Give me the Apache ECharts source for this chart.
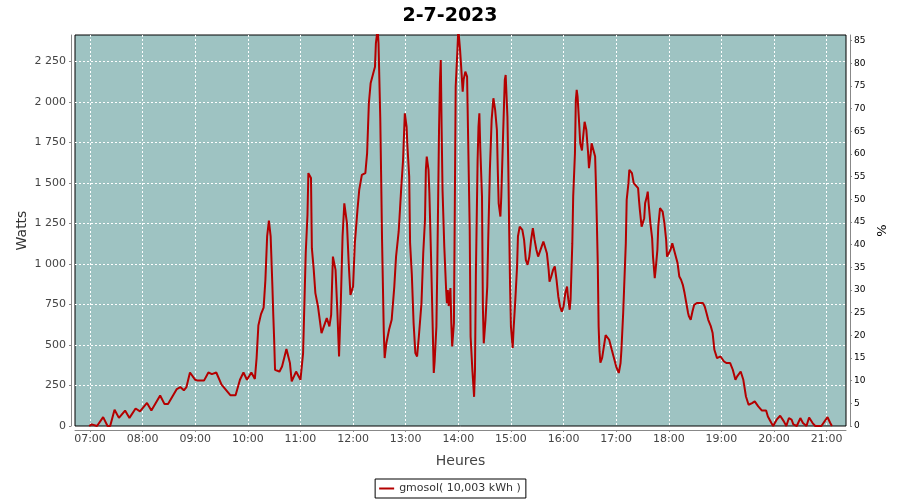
<!DOCTYPE html>
<html>
<head>
<meta charset="utf-8">
<script src="https://cdn.jsdelivr.net/npm/echarts@6/dist/echarts.min.js"></script>
<style>html,body{margin:0;padding:0;background:#fff}#c{width:900px;height:500px}</style>
</head>
<body>
<div id="c"></div>
<script>
const title = '2-7-2023';
const seriesName = 'gmosol( 10,003 kWh )';
const hourTicks = ['07:00','08:00','09:00','10:00','11:00','12:00','13:00','14:00','15:00','16:00','17:00','18:00','19:00','20:00','21:00'];
const times = [
'06:59','07:02','07:08','07:10','07:15','07:20','07:23','07:28','07:33','07:40','07:45','07:52','07:57','08:05','08:10','08:20','08:25','08:29','08:39','08:43','08:47','08:50','08:54','09:00','09:03','09:10','09:15','09:19','09:24','09:30','09:40','09:46','09:51','09:55','09:59','10:04','10:08',
'10:10','10:12','10:15','10:18','10:20','10:22','10:24','10:26','10:28','10:29','10:30','10:31','10:36','10:39','10:44','10:48','10:50','10:55','11:00','11:03','11:06','11:08','11:09','11:12','11:13','11:15','11:17','11:20','11:24','11:28','11:30','11:33','11:35','11:37','11:40','11:42','11:44','11:46','11:48','11:50','11:53','11:55','11:57',
'12:00','12:02','12:05','12:07','12:10','12:14','12:16','12:18','12:20','12:23','12:25','12:26','12:28','12:29','12:31','12:32','12:33','12:35','12:36','12:38','12:41','12:44','12:47','12:49','12:52','12:53','12:55','12:57','12:59',
'13:01','13:02','13:04','13:05','13:07','13:09','13:11','13:13','13:15','13:18','13:20','13:22','13:23','13:24','13:26','13:27','13:29','13:30','13:32','13:33','13:35','13:36','13:38','13:39','13:40','13:41','13:42','13:44','13:46','13:47','13:48','13:49','13:51','13:52','13:53','13:55','13:56','13:57','13:59',
'14:00','14:02','14:03','14:05','14:06','14:08','14:10','14:11','14:13','14:14','14:16','14:18','14:19','14:20','14:22','14:23','14:24','14:25','14:27','14:28','14:29','14:31','14:33','14:34','14:36','14:38','14:40','14:42','14:44','14:45','14:46','14:48','14:49','14:51','14:53','14:54','14:56','14:57','14:58','14:59',
'15:00','15:02','15:03','15:05','15:07','15:08','15:10','15:13','15:15','15:17','15:19','15:21','15:23','15:25','15:27','15:29','15:31','15:33','15:35','15:37','15:39','15:41','15:43','15:44','15:46','15:48','15:50','15:52','15:54','15:56','15:58',
'16:00','16:02','16:04','16:05','16:07','16:08','16:10','16:11','16:13','16:14','16:15','16:16','16:18','16:19','16:21','16:22','16:24','16:25','16:26','16:28','16:29','16:31','16:32','16:34','16:36','16:37','16:38','16:39','16:40','16:41','16:42','16:44','16:48','16:50','16:52','16:55','16:58',
'17:00','17:03','17:05','17:06','17:08','17:09','17:11','17:12','17:14','17:15','17:18','17:20','17:22','17:25','17:26','17:27','17:29','17:30','17:32','17:33','17:35','17:36','17:37','17:39','17:41','17:42','17:44','17:45','17:47','17:48','17:50','17:52','17:53','17:55','17:57','17:58',
'18:00','18:02','18:04','18:06','18:08','18:10','18:12','18:14','18:16','18:18','18:20','18:22','18:23','18:25','18:27','18:29','18:32','18:39','18:41','18:43','18:45','18:48','18:50','18:52','18:55','18:59',
'19:03','19:06','19:10','19:13','19:16','19:18','19:22','19:25','19:28','19:31','19:35','19:38','19:42','19:46','19:51','19:53','19:57','19:59',
'20:03','20:07','20:11','20:14','20:17','20:20','20:22','20:26','20:30','20:33','20:37','20:40','20:44','20:47','20:54','21:01','21:04','21:06'
];
const watts = [
0,10,0,0,55,0,0,100,50,95,50,108,90,142,95,188,135,135,228,240,220,240,330,285,280,280,330,320,330,255,190,190,285,330,285,330,290,
420,620,690,730,900,1170,1267,1170,860,686,532,347,335,367,475,388,275,336,285,450,1066,1302,1560,1530,1097,974,820,737,573,635,666,614,686,1045,963,717,429,758,1169,1374,1251,1005,809,
860,1128,1333,1456,1549,1560,1683,1991,2114,2176,2216,2361,2450,2361,1898,1539,1159,583,419,512,594,655,860,1045,1200,1290,1477,1641,1929,
1847,1723,1539,1128,933,635,450,429,552,758,1066,1272,1580,1662,1580,1436,1025,789,327,398,614,963,1826,2114,2258,1826,1456,1107,851,758,838,740,851,635,491,635,1354,2093,2320,
2450,2320,2238,2062,2135,2186,2155,1837,1210,552,347,180,347,922,1641,1847,1929,1723,1415,737,510,655,860,1128,1580,1888,2022,1950,1826,1580,1374,1292,1415,1785,2135,2165,1908,1590,1210,871,
614,481,594,778,984,1169,1230,1210,1148,1025,994,1045,1148,1220,1148,1087,1045,1055,1107,1138,1140,1066,963,891,922,963,984,902,799,737,706,
737,820,860,799,717,778,1128,1415,1683,2011,2073,2032,1847,1744,1700,1765,1877,1888,1826,1683,1590,1683,1744,1734,1662,1477,1251,1005,614,460,390,420,560,565,532,470,409,
367,327,388,470,697,840,1128,1395,1498,1580,1560,1498,1487,1467,1395,1333,1230,1220,1282,1374,1415,1446,1374,1251,1159,1045,912,963,1087,1230,1344,1354,1323,1251,1148,1045,
1036,1087,1128,1117,1045,1005,922,902,871,820,758,697,676,655,706,748,758,758,737,697,655,614,573,470,419,429,
398,388,388,347,285,306,336,285,182,131,141,152,121,96,96,59,18,0,
39,63,30,0,49,40,10,0,49,18,0,52,18,0,0,55,20,0
];

function toHours(s){const p=s.split(':');return +p[0]+ (+p[1])/60;}
const data = times.map((t,i)=>[toHours(t), watts[i]]);
const fmtW = v => String(Math.round(v)).replace(/\B(?=(\d{3})+(?!\d))/g,' ');
const fmtH = v => (v<10?'0':'')+Math.round(v)+':00';

const chart = echarts.init(document.getElementById('c'), null, {renderer:'canvas'});
const FONT = 'DejaVu Sans';
chart.setOption({
  animation:false,
  backgroundColor:'#ffffff',
  title:{text:title,left:'center',top:2,textStyle:{fontFamily:FONT,fontSize:19,fontWeight:'bold',color:'#000'}},
  grid:{left:75,top:35,width:771,height:391,show:true,backgroundColor:'#9ec3c2',borderColor:'#000',borderWidth:1,containLabel:false},
  legend:{bottom:2,left:'center',data:[seriesName],icon:'rect',itemWidth:15,itemHeight:2,itemGap:5,
    borderColor:'#000',borderWidth:1,padding:[4,5,4,4],backgroundColor:'#fff',
    textStyle:{fontFamily:FONT,fontSize:11,color:'#333'}},
  xAxis:{type:'value',min:6.715,max:21.368,minInterval:1,maxInterval:1,offset:4,
    name:'Heures',nameLocation:'middle',nameGap:24,nameTextStyle:{fontFamily:FONT,fontSize:14,color:'#444'},
    axisLine:{show:true,onZero:false,lineStyle:{color:'#888',width:1}},
    axisTick:{show:true,length:2,lineStyle:{color:'#888'}},
    axisLabel:{fontFamily:FONT,fontSize:11,color:'#444',margin:4,showMinLabel:false,showMaxLabel:false,formatter:fmtH},
    splitLine:{show:true,showMinLine:false,showMaxLine:false,lineStyle:{color:'#fff',type:[2,2],width:1}}},
  yAxis:[
    {type:'value',min:0,max:2412,interval:250,offset:4,position:'left',
     name:'Watts',nameLocation:'middle',nameGap:42,nameMoveOverlap:false,nameTextStyle:{fontFamily:FONT,fontSize:14,color:'#333'},
     axisLine:{show:true,lineStyle:{color:'#888',width:1}},
     axisTick:{show:true,length:2,lineStyle:{color:'#888'}},
     axisLabel:{fontFamily:FONT,fontSize:11,color:'#444',margin:5,showMaxLabel:false,formatter:fmtW},
     splitLine:{show:true,showMinLine:false,showMaxLine:false,lineStyle:{color:'#fff',type:[2,2],width:1}}},
    {type:'value',min:0,max:86.26,interval:5,offset:4,position:'right',
     name:'%',nameLocation:'middle',nameGap:26,nameTextStyle:{fontFamily:FONT,fontSize:13,color:'#000'},
     axisLine:{show:true,lineStyle:{color:'#888',width:1}},
     axisTick:{show:true,length:2,lineStyle:{color:'#888'}},
     axisLabel:{fontFamily:FONT,fontSize:9,color:'#000',margin:4,showMaxLabel:false},
     splitLine:{show:false}}
  ],
  series:[{name:seriesName,type:'line',data:data,yAxisIndex:0,showSymbol:false,symbol:'none',clip:true,
    lineStyle:{color:'#b40000',width:2},itemStyle:{color:'#b40000'}}]
});
</script>
</body>
</html>
